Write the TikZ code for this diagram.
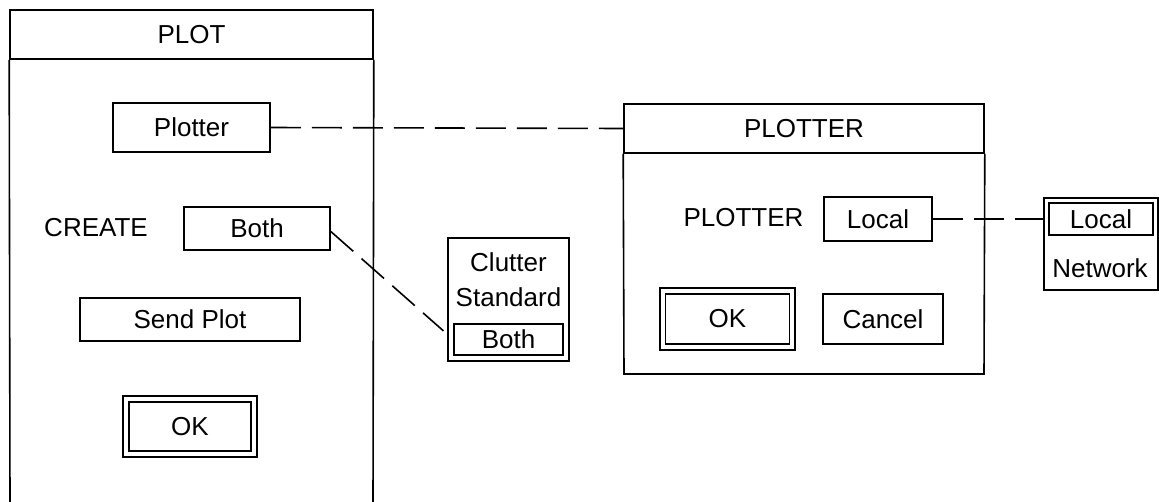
\documentclass[tikz,border=0pt]{standalone}
\usepackage{fontspec}
\setmainfont{Liberation Sans}
\begin{document}
\begin{tikzpicture}[x=1pt,y=-1pt,
  lw/.style={line width=1.6pt},
  box/.style={draw,lw,rectangle,inner sep=0pt,anchor=center},
  txt/.style={inner sep=0pt,anchor=center},
  dashline/.style={lw,dash pattern=on 30pt off 11pt},
  every node/.style={font=\fontsize{26}{31}\selectfont}]
\useasboundingbox (0,0) rectangle (1159,501);
% PLOT window
\node[box,minimum width=363pt,minimum height=49pt] (plotT) at (191.5,34.5) {PLOT};
\draw[lw] (10,505) -- (plotT.south west) (373,505) -- (plotT.south east);
\node[box,minimum width=157pt,minimum height=49pt] (plotterBtn) at (191.5,127.5) {Plotter};
\node[txt] (create) at (96,228) {CREATE};
\node[box,minimum width=146pt,minimum height=43pt] (bothA) at (257,228.5) {Both};
\node[box,minimum width=220pt,minimum height=43pt] (send) at (190,319.5) {Send Plot};
\node[box,minimum width=134pt,minimum height=61pt] (okAo) at (190,426.5) {};
\node[box,minimum width=122pt,minimum height=49pt] (okA) at (190,426.5) {OK};
% Clutter box
\node[box,minimum width=121pt,minimum height=123pt] (clutter) at (508.5,299.5) {};
\node[txt] (clutterT) at (508.5,262) {Clutter};
\node[txt] (standardT) at (508.5,297) {Standard};
\node[box,minimum width=109pt,minimum height=31pt] (bothB) at (508.5,339.5) {Both};
% PLOTTER window
\node[box,minimum width=360pt,minimum height=49pt] (plotterT) at (804,128.5) {PLOTTER};
\draw[lw] (plotterT.south west) -- (624,374) -- (984,374) -- (plotterT.south east);
\node[txt] (plotterL) at (743.5,218) {PLOTTER};
\node[box,minimum width=108pt,minimum height=44pt] (localBtn) at (878,219) {Local};
\node[box,minimum width=135pt,minimum height=62pt] (okBo) at (727.5,319) {};
\node[box,minimum width=124pt,minimum height=50pt] (okB) at (727.5,319) {OK};
\node[box,minimum width=120pt,minimum height=50pt] (cancel) at (883,319) {Cancel};
% Local / Network box
\node[box,minimum width=114pt,minimum height=92pt] (localNet) at (1101,244) {};
\node[box,minimum width=104pt,minimum height=32pt] (localIn) at (1101,219) {Local};
\node[txt] (network) at (1100,268) {Network};
% dashed connectors
\draw[dashline] (plotterBtn.east) -- (plotterT.west);
\draw[dashline,shorten >=13pt] ([yshift=-3pt]bothA.east) -- (bothB.west);
\draw[dashline] (localBtn.east) -- (localIn.west -| localNet.west);
\end{tikzpicture}
\end{document}
